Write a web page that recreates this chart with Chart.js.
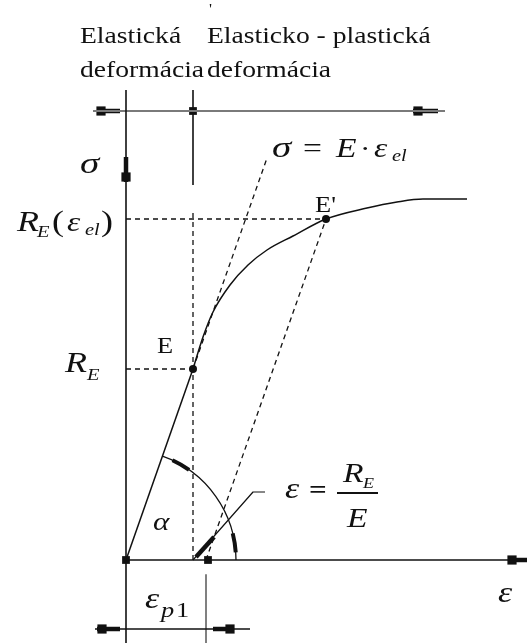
<!DOCTYPE html>
<html>
<head>
<meta charset="utf-8">
<script src="https://cdn.jsdelivr.net/npm/chart.js@4"></script>
<style>
  html, body { margin: 0; padding: 0; background: #fff; }
  canvas { display: block; }
</style>
</head>
<body>
<canvas id="diagram" width="527" height="643"></canvas>
<script>
// strain ε on x, stress σ on y, arbitrary units, origin = unloaded state
const pointE = [0.67, 1.91];          // E  : (ε_el, R_E)
const pointE2 = [2.00, 3.41];         // E' : (ε, R_E(ε_el))
const epsP1 = 0.80;                   // permanent strain after unloading from E'
const curveEps = [0.67, 0.77, 0.87, 1.04, 1.22, 1.41, 1.67, 2.00, 2.41, 2.71, 2.97, 3.41];
const curveSig = [1.91, 2.23, 2.48, 2.75, 2.95, 3.10, 3.24, 3.41, 3.52, 3.58, 3.61, 3.61];
const hookeTop = [1.41, 4.02];        // upper end of dashed σ = E·ε_el
const zoneLevel = 4.49;               // level of the zone dimension line
const dimLevel = -0.69;               // level of the ε_p1 dimension line
const arcRadius = 1.10;
const arcArrows = [[65, 55], [14, 4]];  // degrees along the α arc

const arrowBars = [
  [[0, 3.78], [0, 4.03]],
  [[3.82, 0], [4.01, 0]],
  [[-0.29, zoneLevel], [-0.06, zoneLevel]],
  [[2.87, zoneLevel], [3.12, zoneLevel]],
  [[-0.29, dimLevel], [-0.06, dimLevel]],
  [[0.87, dimLevel], [1.07, dimLevel]],
  [[0.70, 0.03], [0.88, 0.23]]
];
const arrowBlocks = [[0, 3.83], [3.86, 0], [-0.25, zoneLevel], [2.92, zoneLevel], [-0.24, dimLevel], [1.04, dimLevel]];

const serif = '"Liberation Serif", "Times New Roman", serif';
const labels = [
  { at: [-0.46, 5.17], runs: [{ t: 'Elastická' }] },
  { at: [-0.46, 4.83], runs: [{ t: 'deformácia' }] },
  { at: [0.81, 5.17], runs: [{ t: 'Elasticko - plastická' }] },
  { at: [0.81, 4.83], runs: [{ t: 'deformácia' }] },
  { at: [0.83, 5.46], runs: [{ t: "'", s: 14 }] },
  { at: [-0.46, 3.87], runs: [{ t: 'σ', i: 1, s: 30, sx: 1.3 }] },
  { at: [1.46, 4.03], runs: [
    { t: 'σ', i: 1, s: 30, sx: 1.3 },
    { t: '=', s: 28, dx: 31 },
    { t: 'E', i: 1, s: 28, dx: 64 },
    { t: '·', s: 26, dx: 88 },
    { t: 'ε', i: 1, s: 28, dx: 102 },
    { t: 'el', i: 1, s: 17, dx: 120, dy: 4 }
  ] },
  { at: [-1.09, 3.29], runs: [
    { t: 'R', i: 1, s: 30 },
    { t: 'E', i: 1, s: 17, dx: 20, dy: 6 },
    { t: '(', s: 30, dx: 35 },
    { t: 'ε', i: 1, s: 28, dx: 50 },
    { t: 'el', i: 1, s: 17, dx: 68, dy: 4 },
    { t: ')', s: 30, dx: 84 }
  ] },
  { at: [1.89, 3.48], runs: [{ t: "E'", s: 24, sx: 1.1 }] },
  { at: [0.31, 2.07], runs: [{ t: 'E', s: 24, sx: 1.1 }] },
  { at: [-0.61, 1.88], runs: [
    { t: 'R', i: 1, s: 30 },
    { t: 'E', i: 1, s: 17, dx: 22, dy: 8 }
  ] },
  { at: [0.27, 0.30], runs: [{ t: 'α', i: 1, s: 26 }] },
  { at: [1.59, 0.62], runs: [
    { t: 'ε', i: 1, s: 30 },
    { t: '=', b: 1, s: 26, dx: 24 }
  ] },
  { at: [2.17, 0.78], runs: [
    { t: 'R', i: 1, s: 28 },
    { t: 'E', i: 1, s: 15, dx: 20, dy: 6 }
  ] },
  { at: [2.21, 0.33], runs: [{ t: 'E', i: 1, s: 28 }] },
  { at: [3.72, -0.42], runs: [{ t: 'ε', i: 1, s: 30 }] },
  { at: [0.19, -0.48], runs: [
    { t: 'ε', i: 1, s: 30 },
    { t: 'p', i: 1, s: 22, dx: 16, dy: 9 },
    { t: '1', s: 22, dx: 31, dy: 9 }
  ] }
];

const ink = '#111';
const pts = arr => arr.map(p => ({ x: p[0], y: p[1] }));
function line(data, opts) {
  return Object.assign({
    data: pts(data), showLine: true, borderColor: ink, borderWidth: 1.5,
    pointRadius: 0, fill: false, tension: 0
  }, opts || {});
}
const dash = { borderDash: [5, 4], borderWidth: 1.3 };

const datasets = [
  line([[0, -0.83], [0, 4.70]], { borderWidth: 1.6 }),
  line([[0, 0], [4.01, 0]], { borderWidth: 1.6 }),
  line([[-0.33, zoneLevel], [3.19, zoneLevel]], { borderColor: '#7a7a7a', borderWidth: 2 }),
  line([[pointE[0], 3.75], [pointE[0], 4.70]], { borderWidth: 1.6 }),
  line([[pointE[0], 0], [pointE[0], 3.50]], dash),
  line([[0, pointE[1]], pointE], dash),
  line([[0, pointE2[1]], pointE2], dash),
  line([pointE, hookeTop], dash),
  line([[epsP1, 0], pointE2], dash),
  line([[0, 0], pointE]),
  line(curveEps.map((e, k) => [e, curveSig[k]]), { cubicInterpolationMode: 'monotone' }),
  line([[pointE[0], 0], [1.27, 0.68], [1.39, 0.68]], { borderWidth: 1.2 }),
  line([[-0.31, dimLevel], [1.24, dimLevel]], { borderWidth: 1.4 }),
  line([[epsP1, -0.15], [epsP1, -0.83]], { borderColor: '#808080', borderWidth: 2 }),
  line([[2.11, 0.67], [2.52, 0.67]], { borderWidth: 2 })
];
arrowBars.forEach(b => datasets.push(line(b, { borderWidth: 4.5, borderCapStyle: 'butt' })));
datasets.push({ data: pts(arrowBlocks), showLine: false, pointStyle: 'rect', pointRadius: 6.5,
  backgroundColor: ink, borderWidth: 0 });
datasets.push({ data: pts([[0, 0], [0.82, 0], [pointE[0], zoneLevel]]), showLine: false,
  pointStyle: 'rect', pointRadius: 5.5, backgroundColor: ink, borderWidth: 0 });
datasets.push({ data: pts([pointE, pointE2]), showLine: false, pointStyle: 'circle',
  pointRadius: 4, backgroundColor: ink, borderWidth: 0 });

const sketch = {
  id: 'sketch',
  afterDatasetsDraw(chart) {
    const ctx = chart.ctx, xs = chart.scales.x, ys = chart.scales.y;
    const cx = xs.getPixelForValue(0), cy = ys.getPixelForValue(0);
    const r = xs.getPixelForValue(arcRadius) - cx;
    const a0 = Math.atan2(ys.getPixelForValue(0) - ys.getPixelForValue(pointE[1]),
      xs.getPixelForValue(pointE[0]) - cx);
    ctx.save();
    ctx.strokeStyle = ink;
    ctx.lineWidth = 1.3;
    ctx.beginPath();
    ctx.arc(cx, cy, r, -a0, 0);
    ctx.stroke();
    ctx.lineWidth = 4;
    arcArrows.forEach(a => {
      ctx.beginPath();
      ctx.arc(cx, cy, r, -a[0] * Math.PI / 180, -a[1] * Math.PI / 180);
      ctx.stroke();
    });

    ctx.fillStyle = ink;
    ctx.textBaseline = 'alphabetic';
    labels.forEach(l => {
      const x = xs.getPixelForValue(l.at[0]), y = ys.getPixelForValue(l.at[1]);
      l.runs.forEach(run => {
        ctx.save();
        ctx.font = (run.i ? 'italic ' : '') + (run.b ? 'bold ' : '') + (run.s || 23) + 'px ' + serif;
        ctx.translate(x + (run.dx || 0), y + (run.dy || 0));
        ctx.scale(run.sx || 1.2, 1);
        ctx.fillText(run.t, 0, 0);
        ctx.restore();
      });
    });
    ctx.restore();
  }
};

new Chart(document.getElementById('diagram'), {
  type: 'scatter',
  data: { datasets: datasets },
  options: {
    responsive: false,
    animation: false,
    layout: { padding: 0, autoPadding: false },
    plugins: { legend: { display: false }, tooltip: { enabled: false } },
    scales: {
      x: { type: 'linear', min: -1.26, max: 4.01, display: false },
      y: { type: 'linear', min: -0.83, max: 5.60, display: false }
    },
    elements: { line: { borderJoinStyle: 'round' } }
  },
  plugins: [sketch]
});
</script>
</body>
</html>
